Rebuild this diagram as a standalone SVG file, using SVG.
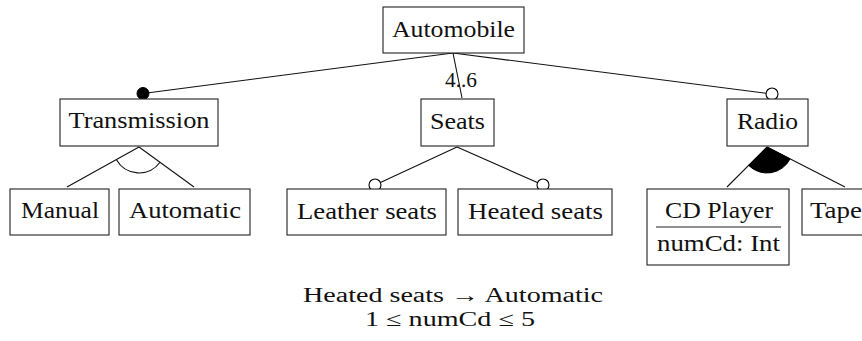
<svg xmlns="http://www.w3.org/2000/svg" width="862" height="341" viewBox="0 0 862 341">
<style>
  .box { fill: #ffffff; stroke: #222222; stroke-width: 1.1; }
  .edge { stroke: #111111; stroke-width: 1.1; fill: none; }
  .mand { fill: #000000; stroke: #000000; stroke-width: 1; }
  .opt { fill: #ffffff; stroke: #000000; stroke-width: 1.1; }
</style>
<rect x="0" y="0" width="862" height="341" fill="#ffffff"/>
<g id="connectors">
  <line class="edge" x1="453" y1="53" x2="143" y2="93.5"/>
  <line class="edge" x1="453" y1="53" x2="462" y2="98"/>
  <line class="edge" x1="453" y1="53" x2="772" y2="94"/>
  <line class="edge" x1="139" y1="147" x2="67" y2="187"/>
  <line class="edge" x1="139" y1="147" x2="194" y2="187"/>
  <path class="edge" d="M116.3,159.6 A26,26 0 0 0 160,162.3"/>
  <line class="edge" x1="457" y1="147" x2="375" y2="185"/>
  <line class="edge" x1="457" y1="147" x2="543" y2="185"/>
  <line class="edge" x1="767" y1="147" x2="727" y2="187"/>
  <line class="edge" x1="767" y1="147" x2="845" y2="187"/>
  <path d="M767,147 L748.6,165.4 A26,26 0 0 0 790.1,158.9 Z" fill="#000000" stroke="#000000" stroke-width="1"/>
  <circle class="mand" cx="143" cy="93.5" r="6"/>
  <circle class="opt" cx="772" cy="94" r="6"/>
  <circle class="opt" cx="375" cy="185" r="6"/>
  <circle class="opt" cx="543" cy="185" r="6"/>
  <text x="461" y="87" font-family="Liberation Serif" font-size="20" text-anchor="middle" fill="#111111" textLength="32" lengthAdjust="spacingAndGlyphs">4..6</text>
</g>
<g id="automobile">
  <rect class="box" x="383" y="7" width="141" height="46"/>
  <text x="453.5" y="37" font-family="Liberation Serif" font-size="24" text-anchor="middle" fill="#111111" textLength="123" lengthAdjust="spacingAndGlyphs">Automobile</text>
</g>
<g id="transmission">
  <rect class="box" x="60" y="99" width="158" height="47"/>
  <text x="139" y="128" font-family="Liberation Serif" font-size="24" text-anchor="middle" fill="#111111" textLength="141" lengthAdjust="spacingAndGlyphs">Transmission</text>
</g>
<g id="seats">
  <rect class="box" x="421" y="99" width="73" height="47"/>
  <text x="457.5" y="129" font-family="Liberation Serif" font-size="24" text-anchor="middle" fill="#111111" textLength="55" lengthAdjust="spacingAndGlyphs">Seats</text>
</g>
<g id="radio">
  <rect class="box" x="727" y="99" width="81" height="47"/>
  <text x="767.5" y="129" font-family="Liberation Serif" font-size="24" text-anchor="middle" fill="#111111" textLength="61" lengthAdjust="spacingAndGlyphs">Radio</text>
</g>
<g id="manual">
  <rect class="box" x="10" y="189" width="99" height="46"/>
  <text x="60" y="218" font-family="Liberation Serif" font-size="24" text-anchor="middle" fill="#111111" textLength="78" lengthAdjust="spacingAndGlyphs">Manual</text>
</g>
<g id="automatic">
  <rect class="box" x="119" y="189" width="131" height="46"/>
  <text x="185" y="218" font-family="Liberation Serif" font-size="24" text-anchor="middle" fill="#111111" textLength="112" lengthAdjust="spacingAndGlyphs">Automatic</text>
</g>
<g id="leather-seats">
  <rect class="box" x="287" y="189" width="159" height="46"/>
  <text x="367" y="219" font-family="Liberation Serif" font-size="24" text-anchor="middle" fill="#111111" textLength="140" lengthAdjust="spacingAndGlyphs">Leather seats</text>
</g>
<g id="heated-seats">
  <rect class="box" x="458" y="189" width="154" height="46"/>
  <text x="535.5" y="219" font-family="Liberation Serif" font-size="24" text-anchor="middle" fill="#111111" textLength="135" lengthAdjust="spacingAndGlyphs">Heated seats</text>
</g>
<g id="cd-player">
  <rect class="box" x="647" y="189" width="142" height="76"/>
  <text x="719" y="218" font-family="Liberation Serif" font-size="24" text-anchor="middle" fill="#111111" textLength="108" lengthAdjust="spacingAndGlyphs">CD Player</text>
  <line x1="656" y1="227" x2="781" y2="227" stroke="#222222" stroke-width="1.1"/>
  <text x="718.5" y="251" font-family="Liberation Serif" font-size="24" text-anchor="middle" fill="#111111" textLength="123" lengthAdjust="spacingAndGlyphs">numCd: Int</text>
</g>
<g id="tape">
  <rect class="box" x="802" y="189" width="70" height="46"/>
  <text x="810" y="218" font-family="Liberation Serif" font-size="24" fill="#111111" textLength="52" lengthAdjust="spacingAndGlyphs">Tape</text>
</g>
<g id="constraints">
  <text x="453" y="302" font-family="Liberation Serif" font-size="20" text-anchor="middle" fill="#111111" textLength="300" lengthAdjust="spacingAndGlyphs">Heated seats → Automatic</text>
  <text x="450" y="326" font-family="Liberation Serif" font-size="20" text-anchor="middle" fill="#111111" textLength="170" lengthAdjust="spacingAndGlyphs">1 ≤ numCd ≤ 5</text>
</g>
</svg>
